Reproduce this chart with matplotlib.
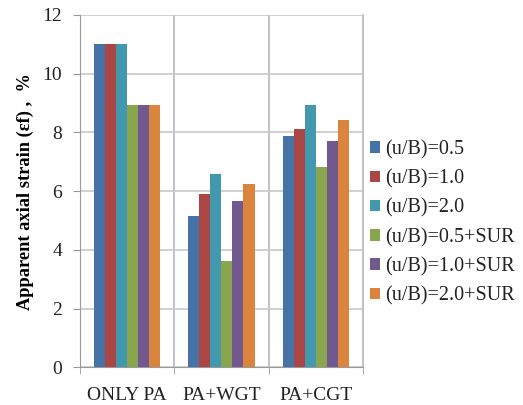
import matplotlib
matplotlib.use("Agg")
import matplotlib.pyplot as plt
import numpy as np

categories = ["ONLY PA", "PA+WGT", "PA+CGT"]
series_names = ["(u/B)=0.5", "(u/B)=1.0", "(u/B)=2.0",
                "(u/B)=0.5+SUR", "(u/B)=1.0+SUR", "(u/B)=2.0+SUR"]
s_05 = [11.0, 5.17, 7.87]
s_10 = [11.0, 5.89, 8.12]
s_20 = [11.0, 6.57, 8.92]
s_05sur = [8.92, 3.62, 6.83]
s_10sur = [8.92, 5.66, 7.71]
s_20sur = [8.92, 6.23, 8.42]
series = [s_05, s_10, s_20, s_05sur, s_10sur, s_20sur]
colors = ["#4572A7", "#AA4643", "#4198AF", "#89A54E", "#71588F", "#DB843D"]

plt.rcParams['font.family'] = ['Liberation Serif', 'DejaVu Serif']

fig = plt.figure(figsize=(5.23, 4.05), dpi=100)
ax = fig.add_axes([0.153, 0.093, 0.541, 0.870])

x = np.arange(len(categories))
n = len(series)
group_w = 0.70
bw = group_w / n
for i, (vals, c, name) in enumerate(zip(series, colors, series_names)):
    ax.bar(x - group_w / 2 + bw * (i + 0.5), vals, bw, color=c, label=name,
           edgecolor='none', zorder=3)

ax.set_xlim(-0.5, len(categories) - 0.5)
ax.set_ylim(0, 12)
ax.set_yticks(np.arange(0, 13, 2))
ax.yaxis.grid(True, color="#c8c8c8", linewidth=1.2, zorder=0)
# category separators
for sep in [0.5, 1.5]:
    ax.axvline(sep, color="#b8b8b8", linewidth=1.2, zorder=0)
ax.set_xticks(x)
ax.set_xticklabels(categories, fontsize=14)
ax.set_xticks([-0.5, 0.5, 1.5, 2.5], minor=True)
ax.tick_params(axis='x', which='major', length=0, pad=14, colors="#222222")
ax.tick_params(axis='x', which='minor', length=5, color="#999999")
ax.tick_params(axis='y', length=5, color="#999999", labelsize=14, pad=8,
               labelcolor="#222222")
ax.spines['top'].set_visible(False)
ax.spines['right'].set_color("#b8b8b8")
ax.spines['right'].set_linewidth(1.2)
ax.spines['left'].set_color("#999999")
ax.spines['bottom'].set_color("#999999")

ax.set_ylabel("Apparent axial strain (εf) ,  %", fontsize=13.2,
              fontweight='bold', labelpad=6)

leg = fig.legend(loc='center left', bbox_to_anchor=(0.708, 0.45), frameon=False,
                 fontsize=14.5, handlelength=0.5, handleheight=0.5,
                 handletextpad=0.25, labelspacing=0.5, borderaxespad=0,
                 borderpad=0)
for t in leg.get_texts():
    t.set_color("#222222")

fig.savefig("out.png", dpi=100)
